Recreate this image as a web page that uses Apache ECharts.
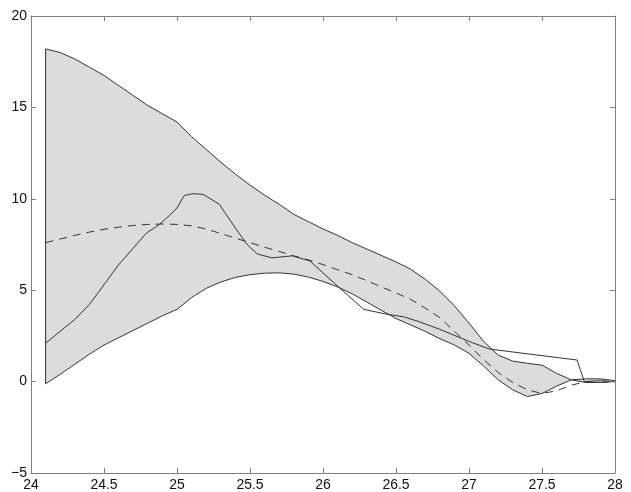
<!DOCTYPE html>
<html>
<head>
<meta charset="utf-8">
<script src="https://cdn.jsdelivr.net/npm/echarts@6/dist/echarts.min.js"></script>
<style>
  html, body { margin: 0; padding: 0; background: #fff; }
  #main { width: 631px; height: 492px; }
</style>
</head>
<body>
<div id="main"></div>
<script>
// band grid (x) and its upper / lower edges
var bandX = [24.1, 24.2, 24.3, 24.4, 24.5, 24.6, 24.7, 24.8, 24.9, 25.0,
  25.1, 25.2, 25.3, 25.4, 25.5, 25.6, 25.7, 25.8, 25.9, 26.0,
  26.1, 26.2, 26.3, 26.4, 26.5, 26.6, 26.7, 26.8, 26.9, 27.0,
  27.1, 27.2, 27.3, 27.4, 27.5, 27.6, 27.7, 27.8, 27.9, 28.0]
var bandUpper = [18.2, 18.0, 17.65, 17.2, 16.75, 16.2, 15.65, 15.1, 14.65, 14.2,
  13.4, 12.7, 12.0, 11.35, 10.75, 10.2, 9.7, 9.15, 8.75, 8.35,
  8.0, 7.6, 7.25, 6.9, 6.55, 6.15, 5.6, 4.95, 4.15, 3.2,
  2.2, 1.45, 1.12, 1.0, 0.9, 0.45, 0.1, 0.15, 0.15, 0.05]
var bandLower = [-0.12, 0.4, 0.95, 1.5, 2.0, 2.4, 2.8, 3.2, 3.6, 3.95,
  4.6, 5.1, 5.45, 5.7, 5.85, 5.93, 5.95, 5.88, 5.72, 5.48,
  5.18, 4.8, 4.35, 3.9, 3.45, 3.1, 2.75, 2.35, 2.0, 1.55,
  0.85, 0.1, -0.45, -0.82, -0.65, -0.25, 0.1, -0.05, -0.05, 0.0]
// dashed curve on the same grid
var meanY = [7.6, 7.8, 8.0, 8.18, 8.33, 8.45, 8.54, 8.6, 8.62, 8.6,
  8.52, 8.35, 8.1, 7.85, 7.6, 7.35, 7.12, 6.88, 6.66, 6.4,
  6.12, 5.85, 5.52, 5.18, 4.85, 4.5, 4.02, 3.5, 2.75, 2.0,
  1.2, 0.5, -0.05, -0.45, -0.65, -0.5, -0.2, 0.0, -0.05, 0.0]
// solid wiggly curve
var obsX = [24.1, 24.3, 24.4, 24.5, 24.6, 24.7, 24.79, 24.88, 24.95, 25.0,
  25.05, 25.11, 25.18, 25.29, 25.4, 25.48, 25.55, 25.65, 25.79, 25.91,
  26.12, 26.28, 26.44, 26.55, 26.65, 26.8, 27.0, 27.14, 27.74, 27.79,
  27.9, 28.0]
var obsY = [2.1, 3.4, 4.22, 5.3, 6.39, 7.3, 8.12, 8.6, 9.1, 9.5,
  10.18, 10.28, 10.24, 9.7, 8.4, 7.5, 6.98, 6.77, 6.88, 6.6,
  5.08, 3.95, 3.68, 3.55, 3.3, 2.86, 2.2, 1.78, 1.18, 0.0,
  0.05, 0.0]
var xTicks = ['24', '24.5', '25', '25.5', '26', '26.5', '27', '27.5', '28']
var yTicks = ['\u22125', '0', '5', '10', '15', '20']

function pairs (xs, ys) {
  return xs.map(function (x, i) { return [x, ys[i]] })
}

var lineColor = '#333'
var frameColor = '#808080'
var font = 'Liberation Sans, Arial, Helvetica, sans-serif'

function frameAxis (extra) {
  return Object.assign({
    type: 'value',
    z: 10,
    axisLine: { show: true, onZero: false, lineStyle: { color: frameColor } },
    axisTick: { show: true, inside: true, length: 5, lineStyle: { color: frameColor } },
    splitLine: { show: false }
  }, extra)
}

// closed band polygon: upper edge left->right, lower edge right->left
function renderBand (params, api) {
  if (params.dataIndex !== 0) return null
  var pts = []
  for (var i = 0; i < bandX.length; i++) pts.push(api.coord([bandX[i], bandUpper[i]]))
  for (var j = bandX.length - 1; j >= 0; j--) pts.push(api.coord([bandX[j], bandLower[j]]))
  return {
    type: 'polygon',
    shape: { points: pts },
    style: { fill: '#dcdcdc', stroke: lineColor, lineWidth: 1 }
  }
}

var myChart = echarts.init(document.getElementById('main'))
myChart.setOption({
  animation: false,
  grid: { left: 31, right: 16, top: 16, bottom: 15 },
  xAxis: [
    frameAxis({
      min: 24, max: 28, interval: 0.5,
      axisLabel: {
        margin: 5, color: '#111', fontSize: 14, fontFamily: font,
        formatter: function (v) { return xTicks[Math.round((v - 24) * 2)] }
      }
    }),
    frameAxis({ position: 'top', min: 24, max: 28, interval: 0.5, axisLabel: { show: false } })
  ],
  yAxis: [
    frameAxis({
      min: -5, max: 20, interval: 5,
      axisLabel: {
        margin: 4, color: '#111', fontSize: 14, fontFamily: font,
        formatter: function (v) { return yTicks[Math.round((v + 5) / 5)] }
      }
    }),
    frameAxis({ position: 'right', min: -5, max: 20, interval: 5, axisLabel: { show: false } })
  ],
  series: [
    {
      name: 'band',
      type: 'custom',
      renderItem: renderBand,
      data: pairs(bandX, bandUpper),
      encode: { x: 0, y: 1 }
    },
    {
      name: 'mean',
      type: 'line',
      symbol: 'none',
      data: pairs(bandX, meanY),
      lineStyle: { color: lineColor, width: 1, type: [8, 6] }
    },
    {
      name: 'obs',
      type: 'line',
      symbol: 'none',
      data: pairs(obsX, obsY),
      lineStyle: { color: lineColor, width: 1 }
    }
  ]
})
</script>
</body>
</html>
